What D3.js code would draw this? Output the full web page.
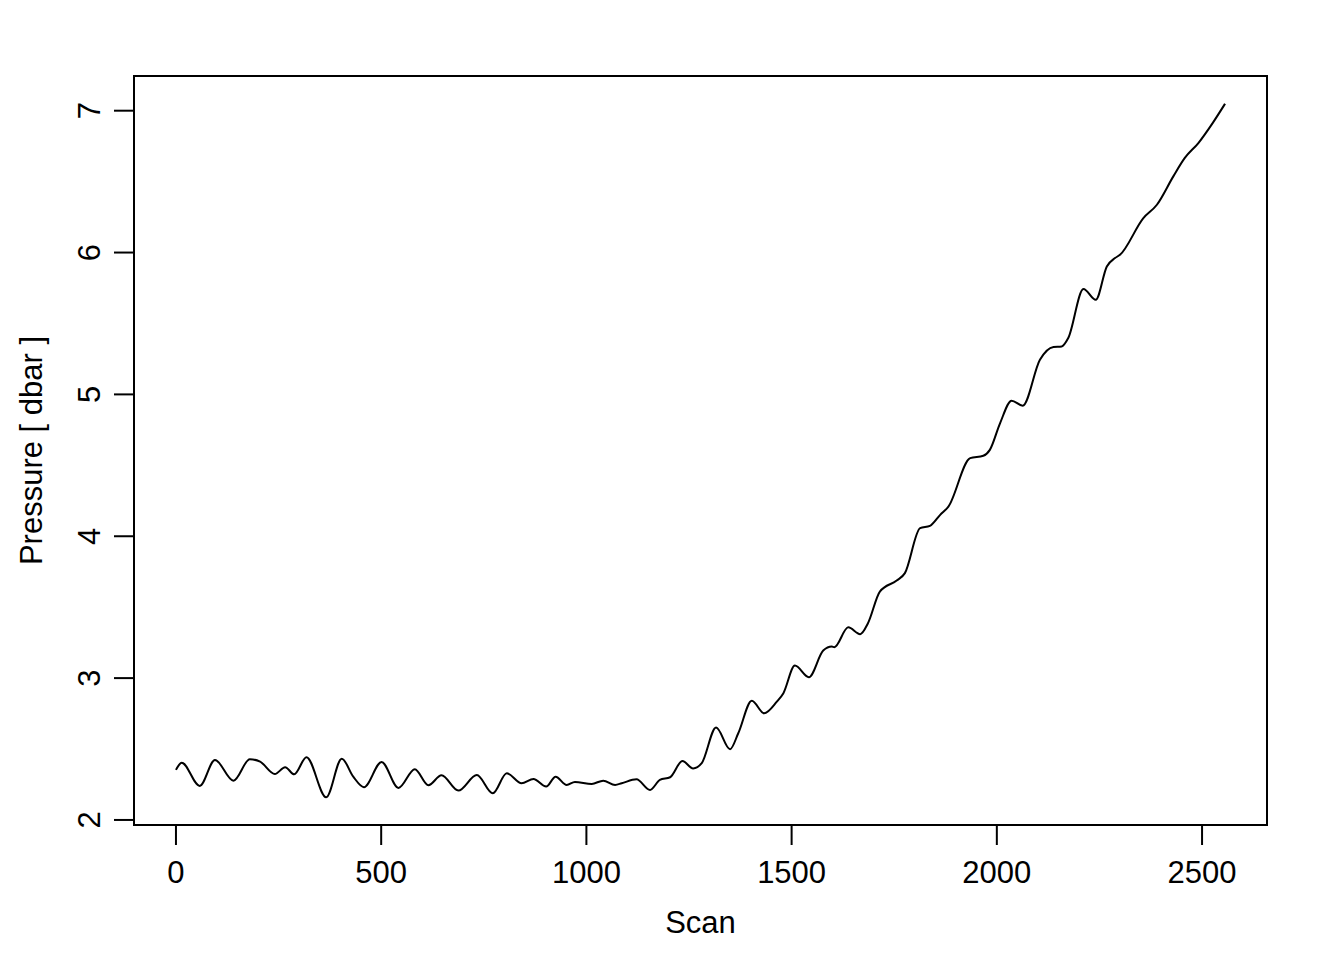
<!DOCTYPE html>
<meta charset="utf-8">
<style>
    body {
        margin: 0;
        background: #fff;
    }

    svg text {
        font-family: "Liberation Sans", Arial, sans-serif;
        font-size: 31px;
        fill: #000;
    }
</style>

<body>
    <script src="https://cdn.jsdelivr.net/npm/d3@7"></script>

    <script>

        // scan number and pressure
        var scans = [0, 14, 58, 95, 140, 180, 205, 241, 266, 288, 318, 366, 404, 432, 458, 501, 542, 582, 615, 647,
            688, 733, 772, 806, 842, 871, 902, 925, 952, 972, 1013, 1041, 1070, 1086, 1122, 1155, 1179, 1204,
            1234, 1260, 1281, 1316, 1350, 1370, 1403, 1433, 1464, 1480, 1508, 1542, 1577, 1598, 1604, 1638,
            1667, 1686, 1715, 1756, 1776, 1813, 1837, 1862, 1882, 1935, 1967, 1983, 2008, 2036, 2063, 2105,
            2138, 2158, 2174, 2211, 2241, 2268, 2288, 2300, 2357, 2390, 2430, 2458, 2491, 2527, 2556];

        var pressures = [2.353, 2.404, 2.240, 2.423, 2.277, 2.428, 2.411, 2.324, 2.372, 2.322, 2.442, 2.160, 2.432,
            2.305, 2.231, 2.409, 2.226, 2.358, 2.245, 2.315, 2.207, 2.317, 2.188, 2.329, 2.259, 2.289, 2.235,
            2.305, 2.247, 2.268, 2.254, 2.277, 2.247, 2.259, 2.287, 2.212, 2.282, 2.301, 2.416, 2.363, 2.400,
            2.652, 2.499, 2.611, 2.841, 2.752, 2.834, 2.894, 3.088, 3.006, 3.194, 3.222, 3.218, 3.358, 3.310,
            3.387, 3.610, 3.688, 3.740, 4.057, 4.073, 4.151, 4.209, 4.551, 4.567, 4.609, 4.798, 4.956, 4.920,
            5.244, 5.334, 5.338, 5.397, 5.743, 5.667, 5.902, 5.961, 5.984, 6.243, 6.337, 6.537, 6.667, 6.772,
            6.918, 7.049];

        var xTicks = [0, 500, 1000, 1500, 2000, 2500];
        var yTicks = [2, 3, 4, 5, 6, 7];

        var width = 1344,
            height = 960,
            margin = { top: 76, right: 77, bottom: 135, left: 134 };

        var data = scans.map(function (s, i) { return { scan: s, p: pressures[i] }; });

        // pad the data range by 4% each side, like base R plots
        function padded(ext) {
            var d = (ext[1] - ext[0]) * 0.04;
            return [ext[0] - d, ext[1] + d];
        }

        var x = d3.scaleLinear()
            .domain(padded(d3.extent(scans)))
            .range([margin.left, width - margin.right]);

        var y = d3.scaleLinear()
            .domain(padded(d3.extent(pressures)))
            .range([height - margin.bottom, margin.top]);

        var svg = d3.select("body").append("svg")
            .attr("width", width)
            .attr("height", height);

        var line = d3.line()
            .x(function (d) { return x(d.scan); })
            .y(function (d) { return y(d.p); })
            .curve(d3.curveMonotoneX);

        svg.append("path")
            .datum(data)
            .attr("d", line)
            .attr("fill", "none")
            .attr("stroke", "#000")
            .attr("stroke-width", 2)
            .attr("stroke-linejoin", "round");

        // frame
        svg.append("rect")
            .attr("x", margin.left)
            .attr("y", margin.top)
            .attr("width", width - margin.left - margin.right)
            .attr("height", height - margin.top - margin.bottom)
            .attr("fill", "none")
            .attr("stroke", "#000")
            .attr("stroke-width", 2);

        // x axis
        var xAxis = svg.append("g")
            .attr("transform", "translate(0," + (height - margin.bottom) + ")");

        xAxis.append("line")
            .attr("x1", x(xTicks[0]))
            .attr("x2", x(xTicks[xTicks.length - 1]))
            .attr("stroke", "#000")
            .attr("stroke-width", 2);

        var xt = xAxis.selectAll("g.tick")
            .data(xTicks)
            .enter().append("g")
            .attr("class", "tick")
            .attr("transform", function (d) { return "translate(" + x(d) + ",0)"; });

        xt.append("line").attr("y2", 20).attr("stroke", "#000").attr("stroke-width", 2);
        xt.append("text")
            .attr("y", 58)
            .attr("text-anchor", "middle")
            .text(function (d) { return d; });

        // y axis
        var yAxis = svg.append("g")
            .attr("transform", "translate(" + margin.left + ",0)");

        yAxis.append("line")
            .attr("y1", y(yTicks[0]))
            .attr("y2", y(yTicks[yTicks.length - 1]))
            .attr("stroke", "#000")
            .attr("stroke-width", 2);

        var yt = yAxis.selectAll("g.tick")
            .data(yTicks)
            .enter().append("g")
            .attr("class", "tick")
            .attr("transform", function (d) { return "translate(0," + y(d) + ")"; });

        yt.append("line").attr("x2", -20).attr("stroke", "#000").attr("stroke-width", 2);
        yt.append("text")
            .attr("transform", "translate(-34,0) rotate(-90)")
            .attr("text-anchor", "middle")
            .text(function (d) { return d; });

        // axis titles
        svg.append("text")
            .attr("x", (margin.left + width - margin.right) / 2)
            .attr("y", 933)
            .attr("text-anchor", "middle")
            .text("Scan");

        svg.append("text")
            .attr("transform", "translate(42," + ((margin.top + height - margin.bottom) / 2) + ") rotate(-90)")
            .attr("text-anchor", "middle")
            .text("Pressure [ dbar ]");

    </script>

</body>

</html>
